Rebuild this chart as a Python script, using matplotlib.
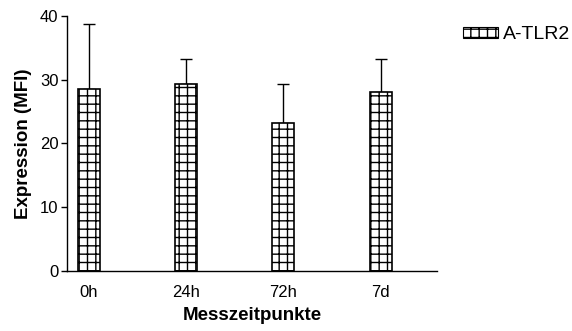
import matplotlib.pyplot as plt
import numpy as np

plt.rcParams['font.family'] = ['Liberation Sans', 'DejaVu Sans']
plt.rcParams['hatch.linewidth'] = 1.0

categories = ['0h', '24h', '72h', '7d']
means = [28.6, 29.3, 23.2, 28.0]
sd_upper = [10.2, 3.9, 6.1, 5.3]
series_name = 'A-TLR2'

fig = plt.figure(figsize=(5.72, 3.31), dpi=100)
ax = fig.add_axes([0.117, 0.181, 0.647, 0.771])

x = np.arange(len(categories))
bars = ax.bar(x, means, width=0.227, color='white', edgecolor='black',
              linewidth=1.2, hatch='++', label=series_name, zorder=2)
ax.errorbar(x, means, yerr=[np.zeros(len(means)), sd_upper], fmt='none',
            ecolor='black', elinewidth=1.0, capsize=4.3, capthick=1.0, zorder=1)

ax.set_xlim(-0.227, 3.58)
ax.set_ylim(0, 40)
ax.set_yticks([0, 10, 20, 30, 40])
ax.set_xticks(x)
ax.set_xticklabels(categories)
ax.tick_params(axis='x', length=0, pad=10, labelsize=12)
ax.tick_params(axis='y', length=4, width=1.0, pad=2, labelsize=12)
for s in ['top', 'right']:
    ax.spines[s].set_visible(False)
for s in ['left', 'bottom']:
    ax.spines[s].set_linewidth(1.0)

ax.set_ylabel('Expression (MFI)', fontsize=13.5, fontweight='bold', labelpad=6)
ax.set_xlabel('Messzeitpunkte', fontsize=13.5, fontweight='bold', labelpad=5)

leg = fig.legend(handles=[bars], labels=[series_name], loc='center left',
                 bbox_to_anchor=(0.778, 0.895), frameon=False, fontsize=14,
                 handlelength=1.8, handleheight=0.45, handletextpad=0.3)
for h in leg.legend_handles:
    h.set_linewidth(0.8)

fig.savefig('out.png', dpi=100)
